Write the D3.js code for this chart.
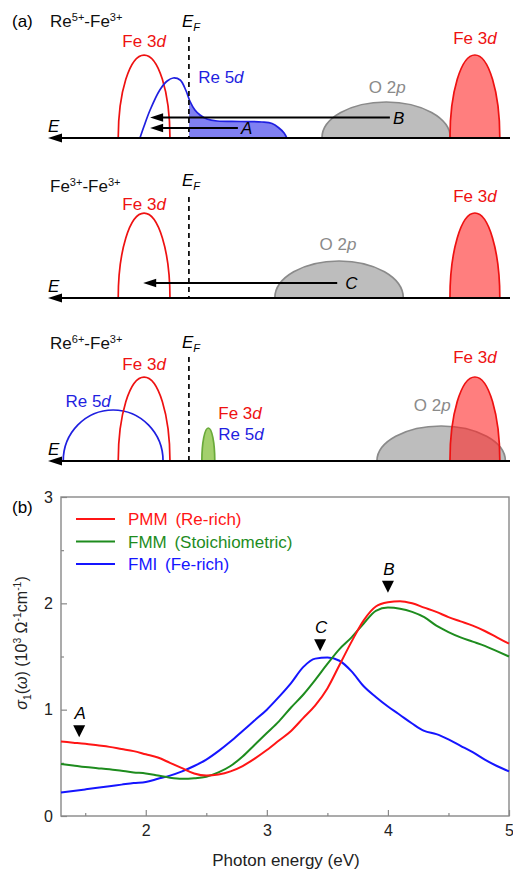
<!DOCTYPE html>
<html>
<head>
<meta charset="utf-8">
<script src="https://cdn.jsdelivr.net/npm/d3@7"></script>
<style>
  body { margin: 0; background: #fff; }
  svg { font-family: Arial, "Liberation Sans", sans-serif; }
</style>
</head>
<body>
<script>
// ---------- (a) band schematics ----------
// schematic energy runs from 0 (right end) to 10 (left, arrow tip); heights are relative DOS
const panelTitles = [
  [{t: "Re"}, {t: "5+", sup: 1}, {t: "-Fe"}, {t: "3+", sup: 1}],
  [{t: "Fe"}, {t: "3+", sup: 1}, {t: "-Fe"}, {t: "3+", sup: 1}],
  [{t: "Re"}, {t: "6+", sup: 1}, {t: "-Fe"}, {t: "3+", sup: 1}]
];
const fermiLevel = 6.95;

const bands = [
  {panel: 0, orbital: "Fe 3d", center: 7.92, halfWidth: 0.56, height: 0.83},
  {panel: 0, orbital: "O 2p",  center: 2.68, halfWidth: 1.39, height: 0.36},
  {panel: 0, orbital: "Fe 3d", center: 0.76, halfWidth: 0.54, height: 0.83},
  {panel: 1, orbital: "Fe 3d", center: 7.92, halfWidth: 0.56, height: 0.85},
  {panel: 1, orbital: "O 2p",  center: 3.70, halfWidth: 1.39, height: 0.37},
  {panel: 1, orbital: "Fe 3d", center: 0.76, halfWidth: 0.54, height: 0.85},
  {panel: 2, orbital: "Re 5d", center: 8.59, halfWidth: 1.08, height: 0.51},
  {panel: 2, orbital: "Fe 3d", center: 7.92, halfWidth: 0.56, height: 0.84},
  {panel: 2, orbital: "mix",   center: 6.53, halfWidth: 0.14, height: 0.33},
  {panel: 2, orbital: "O 2p",  center: 1.49, halfWidth: 1.39, height: 0.35},
  {panel: 2, orbital: "Fe 3d", center: 0.76, halfWidth: 0.54, height: 0.84}
];

// Re 5d DOS in the Re5+ case: [energy, dos]
const re5dDos = [
  [4.83, 0], [4.89, 0.05], [5.00, 0.10], [5.15, 0.145], [5.37, 0.16], [5.84, 0.165],
  [6.34, 0.17], [6.56, 0.19], [6.71, 0.23], [6.82, 0.28], [6.93, 0.37], [7.01, 0.47],
  [7.14, 0.58], [7.29, 0.60], [7.42, 0.57], [7.58, 0.48], [7.79, 0.28], [7.92, 0.12], [8.01, 0]
];

const transitions = [
  {panel: 0, label: "B", from: 2.60, to: 7.79, level: 0.205},
  {panel: 0, label: "A", from: 5.89, to: 7.79, level: 0.10},
  {panel: 1, label: "C", from: 3.74, to: 7.94, level: 0.15}
];

// ---------- (b) optical conductivity ----------
const energy = [1.3, 1.4, 1.5, 1.6, 1.7, 1.8, 1.9, 2.0, 2.1, 2.2, 2.3, 2.4, 2.5, 2.6, 2.7, 2.8, 2.9,
  3.0, 3.1, 3.2, 3.3, 3.4, 3.5, 3.6, 3.7, 3.8, 3.9, 4.0, 4.1, 4.2, 4.3, 4.4, 4.5, 4.6, 4.7, 4.8, 4.9, 5.0];
const pmm = [0.70, 0.69, 0.68, 0.665, 0.65, 0.63, 0.61, 0.58, 0.55, 0.50, 0.45, 0.40, 0.38, 0.39, 0.42, 0.47, 0.54,
  0.62, 0.71, 0.80, 0.92, 1.04, 1.20, 1.42, 1.64, 1.84, 1.97, 2.01, 2.02, 2.00, 1.96, 1.92, 1.87, 1.83, 1.79, 1.74, 1.68, 1.62];
const fmm = [0.49, 0.475, 0.46, 0.45, 0.44, 0.425, 0.41, 0.40, 0.38, 0.36, 0.35, 0.355, 0.37, 0.41, 0.47, 0.56, 0.67,
  0.78, 0.89, 1.02, 1.14, 1.28, 1.43, 1.57, 1.68, 1.81, 1.93, 1.96, 1.95, 1.92, 1.87, 1.79, 1.73, 1.68, 1.64, 1.60, 1.55, 1.50];
const fmi = [0.22, 0.235, 0.25, 0.265, 0.28, 0.295, 0.31, 0.32, 0.35, 0.38, 0.42, 0.47, 0.53, 0.61, 0.70, 0.80, 0.90,
  1.00, 1.12, 1.25, 1.40, 1.48, 1.49, 1.46, 1.36, 1.22, 1.12, 1.03, 0.95, 0.87, 0.80, 0.77, 0.72, 0.66, 0.60, 0.53, 0.47, 0.42];
const seriesNames = ["PMM", "FMM", "FMI"];
const seriesNotes = ["(Re-rich)", "(Stoichiometric)", "(Fe-rich)"];
const xTicks = [2, 3, 4, 5];
const xMinor = [1.5, 2.5, 3.5, 4.5];
const yTicks = [0, 1, 2, 3];
const yMinor = [0.5, 1.5, 2.5];
const peakMarks = [
  {label: "A", energy: 1.45, value: 0.74},
  {label: "C", energy: 3.44, value: 1.55},
  {label: "B", energy: 4.00, value: 2.10}
];

// ---------- styles / layout ----------
const RED = "#ee1111", BLUE = "#1f1fe0", GREEN = "#1e8c1e";
const orbitalStyle = {
  "Fe 3d": {stroke: RED, fill: "rgba(255,40,40,0.6)", text: RED},
  "Re 5d": {stroke: BLUE, fill: "#8080f2", text: BLUE},
  "O 2p":  {stroke: "#8a8a8a", fill: "#bdbdbd", text: "#8a8a8a"},
  "mix":   {stroke: "#6aaa3a", fill: "#a3d06c", text: GREEN}
};
const panelLayout = [
  {axisY: 138, titleY: 27, efLabelY: 27, efTop: 37},
  {axisY: 298, titleY: 192, efLabelY: 186, efTop: 197},
  {axisY: 461, titleY: 349, efLabelY: 348, efTop: 357}
];
// label offsets from each band's peak, same order as bands
const bandLabelOffset = [[0, -8], [1, -9], [0, -11], [0, -3], [-1, -11], [0, -11],
  [-25, -3], [0, -7], [10, -9], [-9, -15], [0, -14]];

const svg = d3.select("body").append("svg").attr("width", 513).attr("height", 876);

function rich(text, parts) {
  let shift = 0;
  parts.forEach(p => {
    const ts = text.append("tspan").text(p.t);
    const target = p.sup ? -6 : p.sub ? 4 : 0;
    if (target !== shift) { ts.attr("dy", target - shift); shift = target; }
    if (p.sup || p.sub) ts.attr("font-size", "0.65em");
    if (p.i) ts.attr("font-style", "italic");
  });
  return text;
}
const orbitalParts = name => [{t: name.slice(0, -1)}, {t: name.slice(-1), i: 1}];

function arrowHead(g, xTip, yTip, len, half) {
  g.append("path")
    .attr("d", `M${xTip},${yTip} L${xTip + len},${yTip - half} L${xTip + len},${yTip + half} Z`)
    .attr("fill", "#000");
}

// ---------- draw (a) ----------
const xE = d3.scaleLinear().domain([0, 10]).range([510, 48]);

svg.append("text").attr("x", 12).attr("y", 27).attr("font-size", 17).text("(a)");

panelLayout.forEach((pl, pi) => {
  const g = svg.append("g");
  const yH = d3.scaleLinear().domain([0, 1]).range([pl.axisY, pl.axisY - 100]);

  rich(g.append("text").attr("x", 50).attr("y", pl.titleY).attr("font-size", 17).attr("fill", "#111"),
    panelTitles[pi]);

  // bands
  bands.forEach((b, bi) => {
    if (b.panel !== pi) return;
    const st = orbitalStyle[b.orbital];
    const occupied = b.center < fermiLevel;
    const x0 = xE(b.center + b.halfWidth), x1 = xE(b.center - b.halfWidth);
    const rx = (x1 - x0) / 2, ry = yH(0) - yH(b.height);
    g.append("path")
      .attr("d", `M${x0},${yH(0)} A${rx},${ry} 0 0 1 ${x1},${yH(0)}` + (occupied ? " Z" : ""))
      .attr("fill", occupied ? st.fill : "none")
      .attr("stroke", st.stroke)
      .attr("stroke-width", 1.7);

    const [dx, dy] = bandLabelOffset[bi];
    const lx = xE(b.center) + dx, ly = yH(b.height) + dy;
    if (b.orbital === "mix") {
      rich(g.append("text").attr("x", lx).attr("y", ly).attr("font-size", 17).attr("fill", RED), orbitalParts("Fe 3d"));
      rich(g.append("text").attr("x", lx).attr("y", ly + 21).attr("font-size", 17).attr("fill", BLUE), orbitalParts("Re 5d"));
    } else {
      rich(g.append("text").attr("x", lx).attr("y", ly).attr("font-size", 17)
        .attr("text-anchor", "middle").attr("fill", st.text), orbitalParts(b.orbital));
    }
  });

  // partially filled Re 5d band (Re5+ case)
  if (pi === 0) {
    const clipId = "occ" + pi;
    g.append("clipPath").attr("id", clipId).append("rect")
      .attr("x", xE(fermiLevel)).attr("y", 0).attr("width", 513 - xE(fermiLevel)).attr("height", pl.axisY);
    g.append("path").datum(re5dDos)
      .attr("d", d3.area().x(d => xE(d[0])).y0(yH(0)).y1(d => yH(d[1])).curve(d3.curveCatmullRom.alpha(0.5)))
      .attr("fill", orbitalStyle["Re 5d"].fill)
      .attr("clip-path", `url(#${clipId})`);
    g.append("path").datum(re5dDos)
      .attr("d", d3.line().x(d => xE(d[0])).y(d => yH(d[1])).curve(d3.curveCatmullRom.alpha(0.5)))
      .attr("fill", "none").attr("stroke", BLUE).attr("stroke-width", 1.7);
    const peak = re5dDos.reduce((a, b) => (b[1] > a[1] ? b : a));
    rich(g.append("text").attr("x", xE(peak[0]) + 25).attr("y", yH(peak[1]) + 5)
      .attr("font-size", 17).attr("fill", BLUE), orbitalParts("Re 5d"));
  }

  // Fermi level
  g.append("line")
    .attr("x1", xE(fermiLevel)).attr("x2", xE(fermiLevel))
    .attr("y1", pl.efTop).attr("y2", pl.axisY)
    .attr("stroke", "#111").attr("stroke-width", 1.8).attr("stroke-dasharray", "5,4");
  rich(g.append("text").attr("x", xE(fermiLevel) - 7).attr("y", pl.efLabelY).attr("font-size", 17),
    [{t: "E", i: 1}, {t: "F", i: 1, sub: 1}]);

  // energy axis
  g.append("line")
    .attr("x1", xE(10) + 10).attr("x2", 510)
    .attr("y1", pl.axisY).attr("y2", pl.axisY)
    .attr("stroke", "#000").attr("stroke-width", 2);
  arrowHead(g, xE(10), pl.axisY, 14, 4.5);
  g.append("text").attr("x", 48).attr("y", pl.axisY - 6).attr("font-size", 17)
    .attr("font-style", "italic").text("E");

  // transitions
  transitions.filter(t => t.panel === pi).forEach(t => {
    const yy = yH(t.level);
    g.append("line")
      .attr("x1", xE(t.to) + 8).attr("x2", xE(t.from))
      .attr("y1", yy).attr("y2", yy)
      .attr("stroke", "#000").attr("stroke-width", 1.8);
    arrowHead(g, xE(t.to), yy, 13, 4.2);
    g.append("text").attr("x", xE(t.from) + (t.label === "C" ? 8 : 3)).attr("y", yy + 6)
      .attr("font-size", 17).attr("font-style", "italic").text(t.label);
  });
});

// ---------- draw (b) ----------
const x = d3.scaleLinear().domain([1.3, 5]).range([61, 509]);
const y = d3.scaleLinear().domain([0, 3]).range([816, 497]);
const gb = svg.append("g");

svg.append("text").attr("x", 12).attr("y", 513).attr("font-size", 17).text("(b)");

function axisStyle(sel) {
  sel.select(".domain").remove();
  sel.selectAll(".tick line").attr("stroke", "#888").attr("stroke-width", 1.2);
  sel.selectAll(".tick text").attr("fill", "#222").attr("font-size", 16)
    .attr("font-family", "Arial, 'Liberation Sans', sans-serif");
}
gb.append("g").attr("transform", "translate(0,816)")
  .call(d3.axisBottom(x).tickValues(xTicks).tickSize(-6).tickPadding(9).tickFormat(d3.format("d")))
  .call(axisStyle);
gb.append("g").attr("transform", "translate(0,816)")
  .call(d3.axisBottom(x).tickValues(xMinor).tickSize(-3).tickFormat(""))
  .call(axisStyle);
gb.append("g").attr("transform", "translate(61,0)")
  .call(d3.axisLeft(y).tickValues(yTicks).tickSize(-6).tickPadding(8).tickFormat(d3.format("d")))
  .call(axisStyle);
gb.append("g").attr("transform", "translate(61,0)")
  .call(d3.axisLeft(y).tickValues(yMinor).tickSize(-3).tickFormat(""))
  .call(axisStyle);

gb.append("rect").attr("x", 61).attr("y", 497).attr("width", 448).attr("height", 319)
  .attr("fill", "none").attr("stroke", "#888").attr("stroke-width", 1.4);

const seriesValues = [pmm, fmm, fmi];
const seriesColors = ["#ff1515", GREEN, "#1515ff"];
const line = d3.line().x(d => x(d[0])).y(d => y(d[1])).curve(d3.curveMonotoneX);
// draw blue first, then green, red on top
[2, 1, 0].forEach(i => {
  gb.append("path").datum(energy.map((e, k) => [e, seriesValues[i][k]]))
    .attr("d", line).attr("fill", "none")
    .attr("stroke", seriesColors[i]).attr("stroke-width", 2);
});

// legend
seriesNames.forEach((n, i) => {
  const ly = 519 + i * 22.5;
  gb.append("line").attr("x1", 76).attr("x2", 115).attr("y1", ly).attr("y2", ly)
    .attr("stroke", seriesColors[i]).attr("stroke-width", 2.2);
  const t = gb.append("text").attr("x", 128).attr("y", ly).attr("dy", "0.36em")
    .attr("font-size", 17).attr("fill", seriesColors[i]);
  t.append("tspan").text(n);
  t.append("tspan").attr("dx", 3).text(" " + seriesNotes[i]);
});

// peak markers
peakMarks.forEach(m => {
  const px = x(m.energy), py = y(m.value);
  gb.append("path").attr("d", `M${px},${py} L${px - 6},${py - 12} L${px + 6},${py - 12} Z`).attr("fill", "#000");
  gb.append("text").attr("x", px + 1).attr("y", py - 18).attr("text-anchor", "middle")
    .attr("font-size", 17).attr("font-style", "italic").text(m.label);
});

// axis titles
gb.append("text").attr("x", 286).attr("y", 866).attr("text-anchor", "middle")
  .attr("font-size", 17).attr("fill", "#222").text("Photon energy (eV)");
rich(gb.append("text").attr("transform", "translate(27,643) rotate(-90)")
  .attr("text-anchor", "middle").attr("font-size", 16).attr("fill", "#222"),
  [{t: "σ", i: 1}, {t: "1", sub: 1}, {t: "("}, {t: "ω", i: 1}, {t: ") (10"}, {t: "3", sup: 1},
   {t: " Ω"}, {t: "-1", sup: 1}, {t: "cm"}, {t: "-1", sup: 1}, {t: ")"}]);
</script>
</body>
</html>
